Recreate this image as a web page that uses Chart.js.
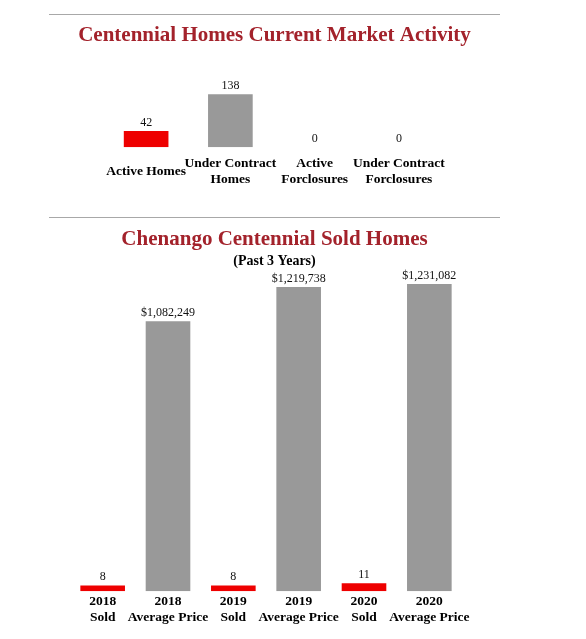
<!DOCTYPE html>
<html lang="en">
<head>
  <meta charset="UTF-8" />
  <title>Centennial Homes Market Activity</title>
  <script src="https://cdn.jsdelivr.net/npm/chart.js"></script>
  <style>
    html, body { margin: 0; padding: 0; background: #fff; }
    .rule { position: absolute; left: 49px; width: 451px; border-top: 1px solid #a8a8a8; height: 0; }
    .box { position: absolute; left: 49px; width: 451px; }
  </style>
</head>
<body>
  <div class="rule" style="top:14px"></div>
  <div class="box" style="top:16px;height:184px"><canvas id="marketChart"></canvas></div>

  <div class="rule" style="top:217px"></div>
  <div class="box" style="top:218px;height:421px"><canvas id="soldChart"></canvas></div>

  <script>
    // current market activity
    const marketLabels = [['Active Homes'], ['Under Contract', 'Homes'], ['Active', 'Forclosures'], ['Under Contract', 'Forclosures']];
    const marketValues = [42, 138, 0, 0];

    // sold homes, past 3 years
    const years = ['2018', '2019', '2020'];
    const soldCounts = [8, 8, 11];
    const avgPrices = [1082249, 1219738, 1231082];

    const RED = '#ee0000';
    const GRAY = '#999999';
    const TITLE_RED = '#a3222b';
    const SERIF = '"Liberation Serif", "Times New Roman", serif';

    // value text above each bar
    const valueLabels = {
      id: 'valueLabels',
      afterDatasetsDraw(chart) {
        const ctx = chart.ctx;
        ctx.save();
        ctx.font = '12px ' + SERIF;
        ctx.fillStyle = '#111';
        ctx.textAlign = 'center';
        ctx.textBaseline = 'middle';
        chart.data.datasets.forEach((ds, i) => {
          const meta = chart.getDatasetMeta(i);
          meta.data.forEach((bar, j) => {
            const v = ds.data[j];
            if (v === null || v === undefined) return;
            const txt = ds.money ? '$' + v.toLocaleString('en-US') : String(v);
            ctx.fillText(txt, bar.x, bar.y - 8.5);
          });
        });
        ctx.restore();
      }
    };

    const tickFont = { family: SERIF, size: 13.5, weight: 'bold', lineHeight: 1.16 };

    // invisible side axis, only used to reserve horizontal room
    function spacer(pos, w, extra) {
      return Object.assign({
        position: pos,
        display: true,
        ticks: { display: false },
        grid: { display: false, drawTicks: false },
        border: { display: false },
        afterFit: (s) => { s.width = w; }
      }, extra);
    }

    new Chart(document.getElementById('marketChart'), {
      type: 'bar',
      data: {
        labels: marketLabels,
        datasets: [{
          data: marketValues,
          backgroundColor: marketValues.map((v, i) => i === 0 ? RED : GRAY),
          barPercentage: 1,
          categoryPercentage: 0.53
        }]
      },
      options: {
        responsive: true,
        maintainAspectRatio: false,
        animation: false,
        layout: { padding: { left: 0, right: 0, top: 0, bottom: 3.5 } },
        scales: {
          x: {
            grid: { display: false, drawTicks: false },
            border: { display: false },
            ticks: {
              color: '#000',
              // single-line label sits between the two rows of the others
              font: (c) => marketLabels[c.index] && marketLabels[c.index].length === 1
                ? Object.assign({}, tickFont, { lineHeight: 2.32 }) : tickFont,
              padding: 9, maxRotation: 0, autoSkip: false
            }
          },
          y: spacer('left', 55, { min: 0, max: 200 }),
          yRight: spacer('right', 59, { min: 0, max: 1 })
        },
        plugins: {
          legend: { display: false },
          tooltip: { enabled: false },
          title: {
            display: true,
            text: 'Centennial Homes Current Market Activity',
            color: TITLE_RED,
            font: { family: SERIF, size: 21, weight: 'bold', lineHeight: 1.2 },
            padding: { top: 7.2, bottom: 22.2 }
          }
        }
      },
      plugins: [valueLabels]
    });

    // interleave sold / average price per year
    const soldLabels = [];
    const soldData = [];
    const priceData = [];
    years.forEach((y, i) => {
      soldLabels.push([y, 'Sold'], [y, 'Average Price']);
      soldData.push(soldCounts[i], null);
      priceData.push(null, avgPrices[i]);
    });

    new Chart(document.getElementById('soldChart'), {
      type: 'bar',
      data: {
        labels: soldLabels,
        datasets: [
          { label: 'Sold', data: soldData, yAxisID: 'yCount', backgroundColor: RED, barPercentage: 1, categoryPercentage: 0.683 },
          { label: 'Average Price', data: priceData, yAxisID: 'y', money: true, backgroundColor: GRAY, barPercentage: 1, categoryPercentage: 0.683 }
        ]
      },
      options: {
        responsive: true,
        maintainAspectRatio: false,
        animation: false,
        skipNull: true,
        layout: { padding: { left: 0, right: 0, top: 0, bottom: 10.5 } },
        scales: {
          x: {
            grid: { display: false, drawTicks: false },
            border: { display: false },
            ticks: { color: '#000', font: tickFont, padding: 3, maxRotation: 0, autoSkip: false }
          },
          y: spacer('left', 21, { min: 0, max: 1290000 }),
          yCount: spacer('right', 38, { min: 0, max: 450 })
        },
        plugins: {
          legend: { display: false },
          tooltip: { enabled: false },
          title: {
            display: true,
            text: 'Chenango Centennial Sold Homes',
            color: TITLE_RED,
            font: { family: SERIF, size: 21, weight: 'bold', lineHeight: 1.2 },
            padding: { top: 9.4, bottom: 0 }
          },
          subtitle: {
            display: true,
            text: '(Past 3 Years)',
            color: '#000',
            font: { family: SERIF, size: 14, weight: 'bold', lineHeight: 1.2 },
            padding: { top: 0, bottom: 0 }
          }
        }
      },
      plugins: [valueLabels]
    });
  </script>
</body>
</html>
